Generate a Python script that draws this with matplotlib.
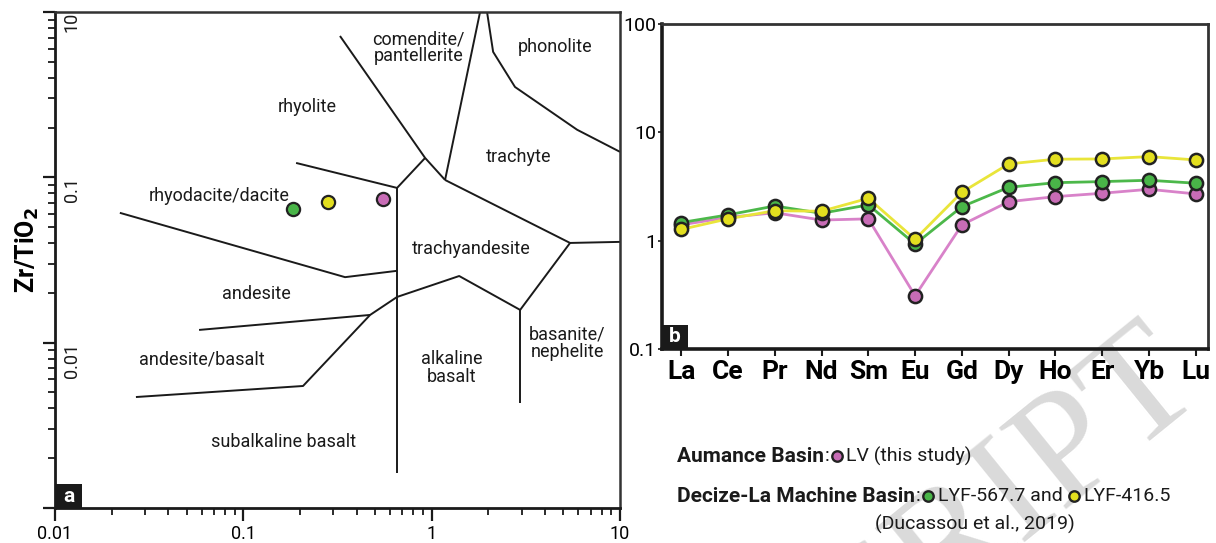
import matplotlib
matplotlib.use('Agg')
import matplotlib.pyplot as plt
from matplotlib.patches import Rectangle
from matplotlib.ticker import LogLocator, NullFormatter, FixedLocator

plt.rcParams['font.family'] = ['Roboto', 'DejaVu Sans']

# ---- data -------------------------------------------------------------
ree = ['La', 'Ce', 'Pr', 'Nd', 'Sm', 'Eu', 'Gd', 'Dy', 'Ho', 'Er', 'Yb', 'Lu']
lv = [1.40, 1.64, 1.81, 1.55, 1.59, 0.31, 1.40, 2.29, 2.55, 2.74, 2.98, 2.70]
lyf567 = [1.47, 1.73, 2.09, 1.79, 2.14, 0.93, 2.06, 3.11, 3.43, 3.51, 3.61, 3.39]
lyf416 = [1.27, 1.59, 1.89, 1.87, 2.46, 1.03, 2.80, 5.11, 5.65, 5.68, 5.97, 5.56]

# Nb/Y vs Zr/TiO2 (LV, LYF-567.7, LYF-416.5)
nb_y = [0.552, 0.184, 0.282]
zr_ti = [0.074, 0.0644, 0.071]

# field boundaries of the Winchester & Floyd diagram (Nb/Y, Zr/TiO2)
bounds = [
    [(0.326, 0.716), (0.923, 0.131), (1.178, 0.0964)],
    [(1.178, 0.0964), (1.807, 1.0)],
    [(1.968, 1.0), (2.12, 0.574), (2.77, 0.352), (5.92, 0.194), (10, 0.1426)],
    [(1.178, 0.0964), (5.43, 0.0401), (10, 0.0407)],
    [(0.1906, 0.1222), (0.655, 0.0863), (0.923, 0.131)],
    [(0.655, 0.0863), (0.655, 0.00163)],
    [(0.0221, 0.061), (0.347, 0.0249), (0.655, 0.0272)],
    [(0.0582, 0.01194), (0.471, 0.01471)],
    [(0.0269, 0.00469), (0.2075, 0.00547), (0.471, 0.01471), (0.655, 0.0189),
     (1.40, 0.0253), (2.95, 0.01578), (5.43, 0.0401)],
    [(2.95, 0.01578), (2.95, 0.00431)],
]
fields = [
    ('comendite/\npantellerite', 0.848, 0.607),
    ('phonolite', 4.52, 0.615),
    ('rhyolite', 0.218, 0.267),
    ('trachyte', 2.88, 0.133),
    ('rhyodacite/dacite', 0.0743, 0.0771),
    ('trachyandesite', 1.62, 0.0369),
    ('andesite', 0.118, 0.0197),
    ('andesite/basalt', 0.0604, 0.00796),
    ('subalkaline basalt', 0.1626, 0.00251),
    ('alkaline\nbasalt', 1.28, 0.00703),
    ('basanite/\nnephelite', 5.24, 0.00995),
]

pink_line, pink = '#d882c9', '#c86cb6'
green_line, green = '#4cb84a', '#49b548'
yellow_line, yellow = '#e9e53a', '#e3df1f'
edge = '#222222'

fig = plt.figure(figsize=(12.16, 5.43), dpi=100)

# watermark behind everything (axes backgrounds are transparent)
bg = fig.add_axes([0, 0, 1, 1], zorder=-1)
bg.set_xlim(0, 1216)
bg.set_ylim(543, 0)
bg.axis('off')
bg.text(970, 528, 'SCRIPT', rotation=39, fontsize=115, color='#dadada',
        family='Liberation Serif', ha='center', va='center')

# ---- panel a ----------------------------------------------------------
ax = fig.add_axes([55 / 1216, 35 / 543, 565 / 1216, 496 / 543])
ax.patch.set_alpha(0)
ax.set_xscale('log')
ax.set_yscale('log')
ax.set_xlim(0.01, 10)
ax.set_ylim(0.001, 1)

for b in bounds:
    xs = [p[0] for p in b]
    ys = [p[1] for p in b]
    ax.plot(xs, ys, color='#1a1a1a', lw=1.4, solid_capstyle='butt')

for txt, x, y in fields:
    ax.text(x, y, txt, ha='center', va='center', fontsize=13,
            linespacing=0.95, color='#1a1a1a')

for x, y, c in zip(nb_y, zr_ti, [pink, green, yellow]):
    ax.plot(x, y, 'o', ms=9.5, mfc=c, mec=edge, mew=1.6, zorder=5)

ax.set_xticks([0.01, 0.1, 1, 10])
ax.set_xticklabels(['0.01', '0.1', '1', '10'], fontsize=13)
ax.xaxis.set_minor_locator(LogLocator(base=10, subs=range(2, 10)))
ax.xaxis.set_minor_formatter(NullFormatter())
ax.set_yticks([0.001, 0.01, 0.1, 1])
ax.set_yticklabels([])
ax.yaxis.set_minor_locator(LogLocator(base=10, subs=range(2, 10)))
ax.yaxis.set_minor_formatter(NullFormatter())
ax.tick_params(which='major', length=9, width=1.6, color='#1a1a1a', pad=3)
ax.tick_params(which='minor', length=5, width=1.3, color='#1a1a1a')

for val, lab in zip([1, 0.1, 0.01], ['10', '0.1', '0.01']):
    ax.text(0.03, val, lab, rotation=90, ha='center', va='top', fontsize=13,
            transform=ax.get_yaxis_transform(), color='#1a1a1a')

ax.text(-0.048, 0.52, r'Zr/TiO$_\mathbf{2}$', rotation=90, transform=ax.transAxes,
        ha='center', va='center', fontsize=18, fontweight='bold')

for s in ['left', 'bottom']:
    ax.spines[s].set_linewidth(2)
    ax.spines[s].set_color('#1a1a1a')
for s in ['top', 'right']:
    ax.spines[s].set_linewidth(1.8)
    ax.spines[s].set_color('#333333')

ax.add_patch(Rectangle((0, 0), 27 / 565, 24 / 496, transform=ax.transAxes,
                       facecolor='#1a1a1a', edgecolor='none', zorder=6))
ax.text(13.5 / 565, 12 / 496, 'a', transform=ax.transAxes, ha='center',
        va='center', color='white', fontsize=15, fontweight='bold', zorder=7)

# ---- panel b ----------------------------------------------------------
bx = fig.add_axes([662 / 1216, 194 / 543, 546 / 1216, 325 / 543])
bx.patch.set_alpha(0)
bx.set_yscale('log')
bx.set_ylim(0.1, 100)
pos = list(range(len(ree)))
bx.set_xlim(-0.41, 11.26)

for vals, lc, mc in [(lv, pink_line, pink), (lyf567, green_line, green),
                     (lyf416, yellow_line, yellow)]:
    bx.plot(pos, vals, '-', color=lc, lw=2, zorder=3)
    bx.plot(pos, vals, 'o', ms=9.5, mfc=mc, mec=edge, mew=1.8, zorder=4)

bx.set_xticks(pos)
bx.set_xticklabels(ree, fontsize=19, fontweight='bold')
bx.yaxis.set_major_locator(FixedLocator([0.1, 1, 10, 100]))
bx.set_yticklabels(['0.1', '1', '10', '100'], fontsize=14)
bx.yaxis.set_minor_locator(FixedLocator([]))
bx.tick_params(axis='x', length=5, width=1.5, pad=3, color='#1a1a1a')
bx.tick_params(axis='y', length=3, width=1.2, pad=1, color='#1a1a1a')
for s in ['left', 'bottom']:
    bx.spines[s].set_linewidth(2.6)
    bx.spines[s].set_color('#1a1a1a')
for s in ['top', 'right']:
    bx.spines[s].set_linewidth(2)
    bx.spines[s].set_color('#333333')

bx.add_patch(Rectangle((0, 0), 26 / 546, 24 / 325, transform=bx.transAxes,
                       facecolor='#1a1a1a', edgecolor='none', zorder=6))
bx.text(13 / 546, 12 / 325, 'b', transform=bx.transAxes, ha='center',
        va='center', color='white', fontsize=15, fontweight='bold', zorder=7)

# ---- legend text ------------------------------------------------------
ov = fig.add_axes([0, 0, 1, 1], zorder=10)
ov.set_xlim(0, 1216)
ov.set_ylim(543, 0)
ov.axis('off')
ov.patch.set_alpha(0)

renderer = fig.canvas.get_renderer()


def chain(x, y, pieces):
    for kind, val, extra in pieces:
        if kind == 'dot':
            ov.plot(x + 6, y, 'o', ms=7.5, mfc=val, mec=edge, mew=1.7, zorder=3)
            x += 12 + extra
        elif kind == 'gap':
            x += val
        else:
            size = 15 if extra == 'bold' else 14
            t = ov.text(x, y, val, fontsize=size, ha='left', va='center',
                        fontweight=extra, color='#1a1a1a', zorder=3)
            bb = t.get_window_extent(renderer)
            x += bb.width + 1


chain(677, 456, [('t', 'Aumance Basin', 'bold'), ('t', ':', 'normal'),
                 ('dot', pink, 3), ('t', 'LV (this study)', 'normal')])
chain(677, 496, [('t', 'Decize-La Machine Basin', 'bold'), ('t', ':', 'normal'),
                 ('dot', green, 4), ('t', 'LYF-567.7 and', 'normal'),
                 ('gap', 4, None), ('dot', yellow, 4),
                 ('t', 'LYF-416.5', 'normal')])
ov.text(975, 524, '(Ducassou et al., 2019)', fontsize=14, ha='center',
        va='center', color='#1a1a1a', zorder=3)

fig.savefig('out.png', dpi=100)
